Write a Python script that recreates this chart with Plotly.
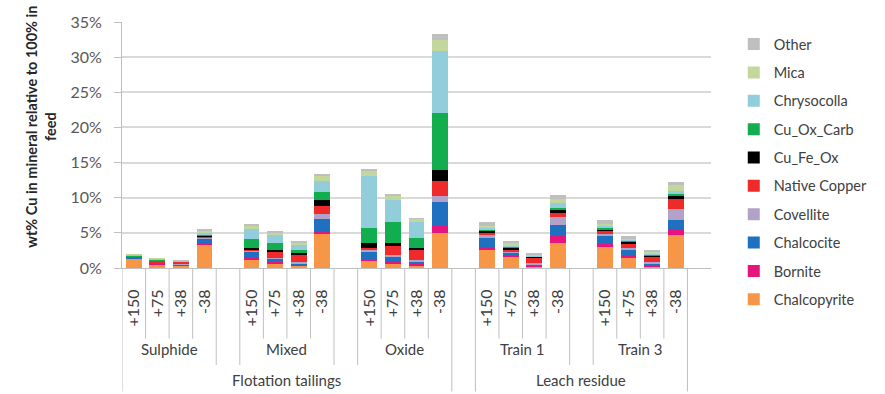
import plotly.graph_objects as go

# Sample grouping
supergroups = ["Flotation tailings", "Leach residue"]
groups = ["Sulphide", "Mixed", "Oxide", "Train 1", "Train 3"]
group_super = [0, 0, 0, 1, 1]
sizes = ["+150", "+75", "+38", "-38"]

# wt% Cu in each mineral (per sample, 4 size classes for each group)
chalcopyrite = [1.35, 0.55, 0.3, 3.4, 1.2, 0.7, 0.4, 4.8, 1.0, 0.7, 0.4, 5.0, 2.6, 1.6, 0.2, 3.6, 3.0, 1.5, 0.2, 4.7]
bornite = [0.05, 0.1, 0.1, 0.15, 0.2, 0.1, 0.1, 0.5, 0.2, 0.2, 0.2, 1.0, 0.4, 0.15, 0.1, 0.95, 0.4, 0.2, 0.1, 0.9]
chalcocite = [0.1, 0.15, 0.05, 0.6, 0.9, 0.5, 0.2, 1.7, 1.2, 0.7, 0.3, 3.4, 1.3, 0.45, 0.2, 1.55, 1.2, 0.8, 0.2, 1.2]
covellite = [0.02, 0.05, 0.1, 0.1, 0.2, 0.1, 0.2, 0.7, 0.2, 0.2, 0.3, 0.8, 0.4, 0.1, 0.2, 1.2, 0.3, 0.3, 0.3, 1.6]
native_copper = [0.05, 0.2, 0.35, 0.3, 0.2, 0.9, 1.0, 1.1, 0.3, 1.4, 1.3, 2.2, 0.3, 0.4, 0.75, 0.5, 0.3, 0.6, 0.8, 1.35]
cu_fe_ox = [0.03, 0.05, 0.0, 0.05, 0.2, 0.3, 0.2, 0.9, 0.6, 0.4, 0.3, 1.6, 0.3, 0.2, 0.15, 0.5, 0.3, 0.3, 0.2, 0.45]
cu_ox_carb = [0.15, 0.1, 0.0, 0.15, 1.2, 0.9, 0.5, 1.1, 2.2, 3.0, 1.5, 8.0, 0.2, 0.2, 0.1, 0.3, 0.2, 0.2, 0.15, 0.3]
chrysocolla = [0.1, 0.1, 0.0, 0.2, 1.5, 1.2, 0.7, 1.6, 7.4, 3.1, 2.3, 8.9, 0.2, 0.15, 0.05, 0.6, 0.3, 0.15, 0.15, 0.5]
mica = [0.05, 0.05, 0.05, 0.4, 0.4, 0.4, 0.3, 0.7, 0.8, 0.6, 0.4, 1.6, 0.3, 0.25, 0.15, 0.6, 0.3, 0.2, 0.2, 0.75]
other = [0.0, 0.0, 0.05, 0.15, 0.2, 0.2, 0.2, 0.3, 0.1, 0.1, 0.1, 0.8, 0.5, 0.3, 0.1, 0.6, 0.5, 0.25, 0.25, 0.45]

series = [
    ("Chalcopyrite", chalcopyrite, "#F79646"),
    ("Bornite", bornite, "#E5147E"),
    ("Chalcocite", chalcocite, "#1F70C1"),
    ("Covellite", covellite, "#B3A2C7"),
    ("Native Copper", native_copper, "#EE2A2A"),
    ("Cu_Fe_Ox", cu_fe_ox, "#000000"),
    ("Cu_Ox_Carb", cu_ox_carb, "#12AD4F"),
    ("Chrysocolla", chrysocolla, "#92CDDC"),
    ("Mica", mica, "#C3D69B"),
    ("Other", other, "#BFBFBF"),
]

# Slot layout: 4 bars per group, one empty slot between groups
slot = len(sizes) + 1
xpos = [g * slot + s for g in range(len(groups)) for s in range(len(sizes))]
xlabels = [sz for _ in groups for sz in sizes]
n_slots = len(groups) * slot - 1

FONT = "Lato, Carlito, Calibri, sans-serif"
LINE = "#BFBFBF"
W, H = 885, 394
ML, MR, MT, MB = 122, 168, 17, 126
plot_w = W - ML - MR
plot_h = H - MT - MB

fig = go.Figure()
for i, (name, vals, col) in enumerate(series):
    fig.add_trace(go.Bar(
        x=xpos, y=vals, name=name, marker=dict(color=col, line=dict(width=0)),
        width=0.67, legendgroup=name, legendrank=1000 - i,
    ))

fig.update_layout(
    barmode="stack",
    width=W, height=H,
    margin=dict(l=ML, r=MR, t=MT, b=MB),
    paper_bgcolor="white", plot_bgcolor="white",
    font=dict(family=FONT, size=15, color="#404040"),
    legend=dict(
        x=(740 - ML) / plot_w, y=0.975, xanchor="left", yanchor="top",
        font=dict(size=14.5, color="#404040"),
        tracegroupgap=6.5, itemwidth=30, maxheight=380,
    ),
)

fig.update_yaxes(
    range=[0, 35], dtick=5, ticksuffix="%",
    showgrid=True, gridcolor="#D9D9D9", gridwidth=1.5,
    showline=True, linecolor=LINE, linewidth=1,
    ticks="outside", ticklen=7, tickcolor=LINE,
    ticklabelstandoff=9, tickfont=dict(size=16, color="#595959"),
    zeroline=False,
)
fig.update_xaxes(
    range=[-0.5, n_slots + 0.5],
    tickvals=xpos, ticktext=xlabels, tickangle=-90,
    ticks="", ticklabelstandoff=14, tickfont=dict(size=16, color="#404040"),
    showline=True, linecolor=LINE, linewidth=1,
    showgrid=False, zeroline=False,
)

# Multi-level category frame below the axis
def py(px):
    return (H - MB - px) / plot_h

def px_x(px):
    return (px - ML) / plot_w

tick_bottom = py(340)
group_bottom = py(367)
super_bottom = py(394)

shapes = []
def vline(xv, y1):
    shapes.append(dict(type="line", xref="x", yref="paper", x0=xv, x1=xv,
                       y0=0, y1=y1, line=dict(color=LINE, width=1)))

# group spans
spans = [(g * slot - 0.5, g * slot + len(sizes) - 0.5) for g in range(len(groups))]
super_spans = []
for s in range(len(supergroups)):
    members = [spans[g] for g in range(len(groups)) if group_super[g] == s]
    super_spans.append((members[0][0], members[-1][1]))

edges_done = set()
for a, b in super_spans:
    for e in (a, b):
        vline(e, super_bottom)
        edges_done.add(e)
for a, b in spans:
    for e in (a, b):
        if e not in edges_done:
            vline(e, group_bottom)
            edges_done.add(e)
    for k in range(1, len(sizes)):
        vline(a + k, tick_bottom)

annotations = []
for g, (a, b) in enumerate(spans):
    annotations.append(dict(x=(a + b) / 2, y=py(351), xref="x", yref="paper",
                            text=groups[g], showarrow=False,
                            xanchor="center", yanchor="middle",
                            font=dict(size=15, color="#404040")))
for s, (a, b) in enumerate(super_spans):
    annotations.append(dict(x=(a + b) / 2, y=py(382), xref="x", yref="paper",
                            text=supergroups[s], showarrow=False,
                            xanchor="center", yanchor="middle",
                            font=dict(size=15, color="#404040")))

# Y-axis title
annotations.append(dict(
    x=px_x(40), y=py(124), xref="paper", yref="paper",
    text="<b>wt% Cu in mineral relative to 100% in<br>feed</b>",
    textangle=-90, showarrow=False, xanchor="center", yanchor="middle",
    font=dict(size=14.5, color="#262626"),
))

fig.update_layout(shapes=shapes, annotations=annotations)

fig.write_html("out.html")
